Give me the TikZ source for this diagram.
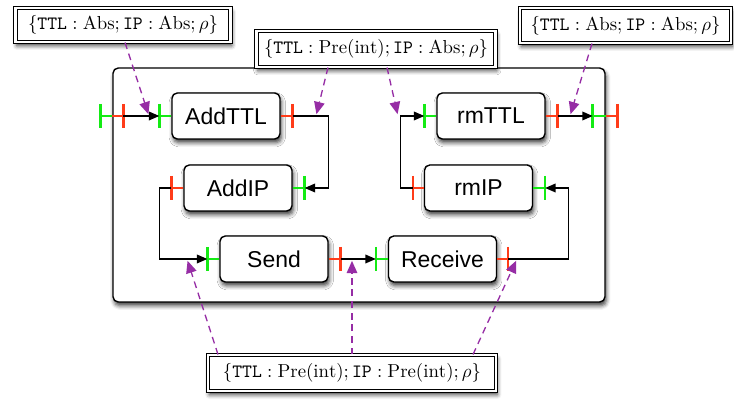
\documentclass[tikz,border=0pt]{standalone}
\usepackage{fontspec}
\newfontfamily\boxfont{Liberation Sans}
\usetikzlibrary{arrows.meta,shadows.blur,calc}
\definecolor{pgreen}{RGB}{20,235,20}
\definecolor{pred}{RGB}{255,60,25}
\definecolor{ppurple}{RGB}{150,45,165}
\def\PX{0.532}
\newcommand\myport[4]{%
  \draw[#1] (#2) -- ++(#3,0) coordinate (#4);
  \draw[#1] ($(#4)+(0,-12)$) -- ($(#4)+(0,12)$);}
\begin{document}
\begin{tikzpicture}[x=0.532pt,y=-0.532pt,
  shad/.style={blur shadow={shadow xshift=0.7pt,shadow yshift=-2pt,shadow blur radius=2.2pt,shadow opacity=75}},
  proc/.style={draw,line width=0.75pt,rounded corners=2.8pt,fill=white,shad,
    minimum width=108*\PX pt,minimum height=46*\PX pt,inner sep=0pt,
    font=\boxfont\fontsize{12.2}{14}\selectfont},
  lab/.style={draw,line width=0.55pt,double=white,double distance=1.5pt,fill=white,shad,
    inner sep=0pt},
  gport/.style={draw=pgreen,line width=1.3pt},
  rport/.style={draw=pred,line width=1.3pt},
  conn/.style={line width=0.7pt,-{Triangle[length=5.5pt,width=4.6pt]}},
  note/.style={draw=ppurple,line width=0.7pt,dash pattern=on 3.6pt off 2.6pt,
    -{Triangle[length=6.5pt,width=5.6pt,fill=ppurple]},shorten >=1pt}
]
\useasboundingbox (0,0) rectangle (734,399);

% system box
\node[draw,line width=0.75pt,rounded corners=2.8pt,fill=white,shad,inner sep=0pt,
  minimum width=492*\PX pt,minimum height=234*\PX pt] (sys) at (359,185) {};

% processes
\node[proc] (addttl) at (226,116) {AddTTL};
\node[proc] (addip)  at (238,188) {AddIP};
\node[proc] (send)   at (274,259) {Send};
\node[proc] (recv)   at (442.5,259) {Receive};
\node[proc] (rmip)   at (478.5,188) {rmIP};
\node[proc] (rmttl)  at (491,116) {rmTTL};

% boundary points
\coordinate (sysL) at (sys.west |- addttl.west);
\coordinate (sysR) at (sys.east |- rmttl.east);

% ports
\myport{gport}{addttl.west}{-12}{addttl-in}
\myport{rport}{addttl.east}{12}{addttl-out}
\myport{gport}{addip.east}{12}{addip-in}
\myport{rport}{addip.west}{-12}{addip-out}
\myport{gport}{send.west}{-12}{send-in}
\myport{rport}{send.east}{12}{send-out}
\myport{gport}{recv.west}{-12}{recv-in}
\myport{rport}{recv.east}{11}{recv-out}
\myport{gport}{rmip.east}{12}{rmip-in}
\myport{rport}{rmip.west}{-11}{rmip-out}
\myport{gport}{rmttl.west}{-12}{rmttl-in}
\myport{rport}{rmttl.east}{12}{rmttl-out}
\myport{gport}{sysL}{-12}{sys-gin}
\myport{rport}{sysL}{11}{sys-rin}
\myport{gport}{sysR}{-13}{sys-gout}
\myport{rport}{sysR}{12}{sys-rout}

% connectors
\draw[conn] (sys-rin) -- (addttl-in);
\draw[conn] (addttl-out) -- ++(36,0) |- (addip-in);
\draw[conn] (addip-out) -- ++(-12,0) |- (send-in);
\draw[conn] (send-out) -- (recv-in);
\draw[conn] (recv-out) -- ++(60,0) |- (rmip-in);
\draw[conn] (rmip-out) -- ++(-12,0) |- (rmttl-in);
\draw[conn] (rmttl-out) -- (sys-gout);

% annotation labels
\node[lab,minimum width=215*\PX pt,minimum height=34*\PX pt] (lab1) at (123,25)
  {$\{\mathtt{TTL}:\mathrm{Abs};\mathtt{IP}:\mathrm{Abs};\rho\}$};
\node[lab,minimum width=239*\PX pt,minimum height=36*\PX pt] (lab2) at (376,49)
  {$\{\mathtt{TTL}:\mathrm{Pre(int)};\mathtt{IP}:\mathrm{Abs};\rho\}$};
\node[lab,minimum width=211*\PX pt,minimum height=35*\PX pt] (lab3) at (625.5,25.5)
  {$\{\mathtt{TTL}:\mathrm{Abs};\mathtt{IP}:\mathrm{Abs};\rho\}$};
\node[lab,minimum width=288*\PX pt,minimum height=36*\PX pt] (lab4) at (352,373)
  {$\{\mathtt{TTL}:\mathrm{Pre(int)};\mathtt{IP}:\mathrm{Pre(int)};\rho\}$};

% annotation targets on the wires
\coordinate (t1) at (149,116);
\coordinate (t2) at (316,116);
\coordinate (t3) at (398,116);
\coordinate (t4) at (570,116);
\coordinate (t5) at (187,259);
\coordinate (t6) at (352,259);
\coordinate (t7) at (517,259);

\draw[note] ($(lab1.south)+(2,0)$) -- (t1);
\draw[note] ($(lab2.south)+(-48,0)$) -- (t2);
\draw[note] ($(lab2.south)+(11,0)$) -- (t3);
\draw[note] ($(lab3.south)+(-33.5,0)$) -- (t4);
\draw[note] ($(lab4.north)+(-134,0)$) -- (t5);
\draw[note] (lab4.north) -- (t6);
\draw[note] ($(lab4.north)+(121,0)$) -- (t7);
\end{tikzpicture}
\end{document}
